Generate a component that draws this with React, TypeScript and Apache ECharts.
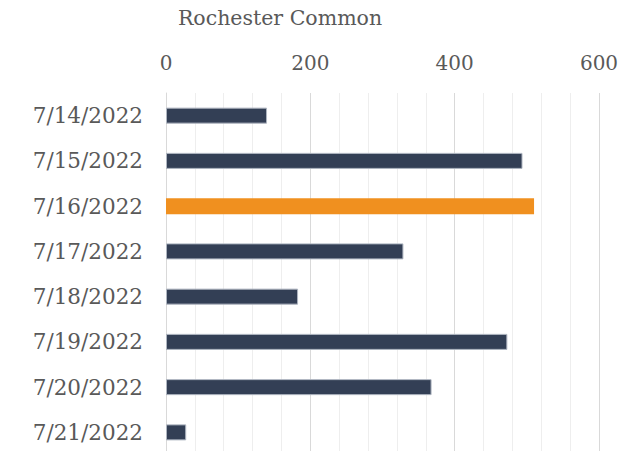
import React, { useEffect, useRef } from "react";
import * as echarts from "echarts";

const title = "Rochester Common";
const categories = [
  "7/14/2022",
  "7/15/2022",
  "7/16/2022",
  "7/17/2022",
  "7/18/2022",
  "7/19/2022",
  "7/20/2022",
  "7/21/2022",
];
const values = [140, 494, 510, 329, 183, 473, 368, 28];
const highlightIndex = 2;

export default function App() {
  const ref = useRef<HTMLDivElement>(null);
  useEffect(() => {
    if (!ref.current) return;
    const chart = echarts.init(ref.current, undefined, { renderer: "svg" });
    const font = "'DejaVu Serif', serif";
    chart.setOption({
      animation: false,
      backgroundColor: "#ffffff",
      title: {
        text: title,
        left: 275,
        top: 2,
        textAlign: "center",
        textStyle: { fontFamily: font, fontSize: 20.5, fontWeight: "normal", color: "#595959" },
      },
      grid: { left: 166, top: 93, width: 433, height: 362, containLabel: false },
      xAxis: {
        type: "value",
        position: "top",
        min: 0,
        max: 600,
        interval: 200,
        axisLine: { show: false },
        axisTick: { show: false },
        axisLabel: { fontFamily: font, fontSize: 20, color: "#595959", margin: 20 },
        splitLine: { show: true, lineStyle: { color: "#D9D9D9", width: 1 } },
        minorTick: { show: false, splitNumber: 5 },
        minorSplitLine: { show: true, lineStyle: { color: "#EEEEEE", width: 1 } },
      },
      yAxis: {
        type: "category",
        data: categories,
        inverse: true,
        axisLine: { show: true, lineStyle: { color: "#D9D9D9", width: 1 } },
        axisTick: { show: false },
        axisLabel: { fontFamily: font, fontSize: 21.5, color: "#595959", margin: 23 },
        splitLine: { show: false },
      },
      series: [
        {
          type: "bar",
          barWidth: 16,
          data: values.map((v, i) => ({
            value: v,
            itemStyle:
              i === highlightIndex
                ? { color: "#F0901F" }
                : { color: "#333F55", borderColor: "#AEB5C0", borderWidth: 1 },
          })),
        },
      ],
    });
    return () => chart.dispose();
  }, []);
  return (
    <div
      style={{ position: "fixed", left: 0, top: 0, width: 627, height: 451, overflow: "hidden", background: "#fff" }}
    >
      <div ref={ref} style={{ width: 627, height: 470 }} />
    </div>
  );
}
